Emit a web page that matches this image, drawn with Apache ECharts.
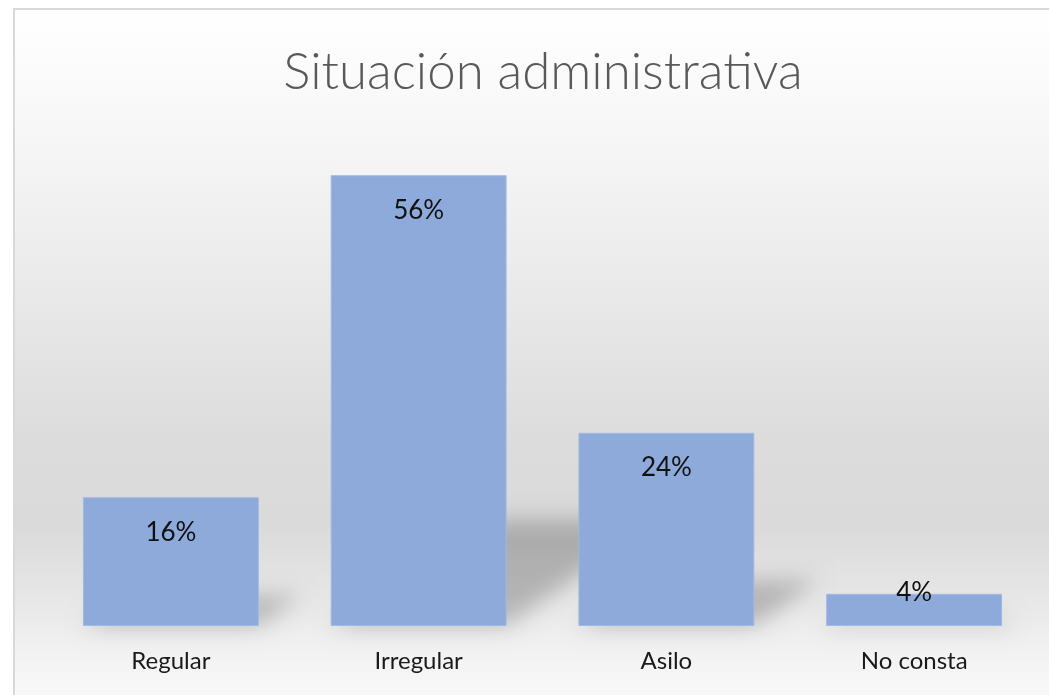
<!DOCTYPE html>
<html>
<head>
<meta charset="utf-8">
<script src="https://cdn.jsdelivr.net/npm/echarts@6/dist/echarts.min.js"></script>
<style>html,body{margin:0;padding:0;background:#fff}#c{width:1049px;height:695px}</style>
</head>
<body>
<div id="c"></div>
<script>
const titleText = 'Situación administrativa';
const categories = ['Regular', 'Irregular', 'Asilo', 'No consta'];
const values = [16, 56, 24, 4];

const chart = echarts.init(document.getElementById('c'));
const GAP = 0.29;
const OFF = 3000;

const barData = values.map(v => v < 8
  ? { value: v, label: { position: 'top', distance: -12 } }
  : { value: v });
const shadowData = values.map((v, i) => [i, v]);

chart.setOption({
  animation: false,
  backgroundColor: '#ffffff',
  graphic: [{
    type: 'rect', z: -100, silent: true,
    shape: { x: 14, y: 9, width: 1100, height: 720 },
    style: {
      fill: new echarts.graphic.LinearGradient(0, 0, 0, 1, [
        { offset: 0, color: '#ffffff' },
        { offset: 0.13, color: '#f9f9f9' },
        { offset: 0.22, color: '#f4f4f4' },
        { offset: 0.366, color: '#ebebeb' },
        { offset: 0.6, color: '#dcdcdc' },
        { offset: 0.716, color: '#dadada' },
        { offset: 0.803, color: '#e5e5e5' },
        { offset: 0.9, color: '#f3f3f3' },
        { offset: 1, color: '#fdfdfd' }
      ]),
      stroke: '#d9d9d9', lineWidth: 2
    }
  }],
  title: {
    text: titleText,
    left: 543, top: 47, textAlign: 'center', padding: 0,
    textStyle: { fontFamily: 'Lato', fontWeight: 300, fontSize: 51, color: '#595959' }
  },
  grid: { left: 47, right: 11, top: 143, bottom: 69, containLabel: false },
  xAxis: {
    type: 'category', data: categories,
    axisLine: { show: false }, axisTick: { show: false },
    axisLabel: { margin: 23, fontFamily: 'Lato', fontSize: 24, color: '#1a1a1a' }
  },
  yAxis: {
    type: 'value', min: 0, max: 60, show: false,
    splitLine: { show: false }
  },
  series: [{
    type: 'custom', z: 1, clip: false, silent: true,
    data: shadowData,
    renderItem: function (params, api) {
      const i = api.value(0), v = api.value(1);
      const base = api.coord([i, 0]);
      const top = api.coord([i, v]);
      const cat = api.size([1, 0])[0];
      const hw = cat * (1 - GAP) / 2;
      const h = base[1] - top[1];
      const dx = 0.333 * h, dy = 0.235 * h;
      const cx = base[0];
      const pts = [
        [cx - hw - OFF, base[1]],
        [cx + hw - OFF, base[1]],
        [cx + hw + dx - OFF, base[1] - dy],
        [cx - hw + dx - OFF, base[1] - dy]
      ];
      return {
        type: 'polygon', shape: { points: pts },
        style: { fill: '#000', shadowColor: 'rgba(0,0,0,0.22)', shadowBlur: 22, shadowOffsetX: OFF, shadowOffsetY: 0 }
      };
    }
  }, {
    type: 'bar', z: 2,
    data: barData,
    barCategoryGap: (GAP * 100) + '%',
    itemStyle: { color: '#8eaadb', borderColor: '#a2b9e2', borderWidth: 1 },
    label: {
      show: true, position: 'insideTop', distance: 22,
      formatter: '{c}%', fontFamily: 'Lato', fontSize: 26, color: '#111'
    }
  }]
});
</script>
</body>
</html>
